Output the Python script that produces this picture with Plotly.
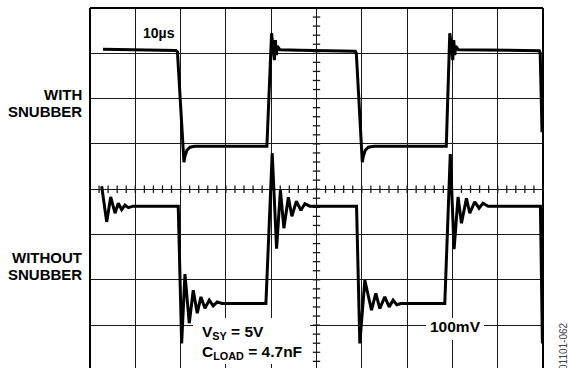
import plotly.graph_objects as go

# ---- data (scope divisions: x 0..10, y -4..4, centre line at 0) ----
snub_x = [0.287, 1.103, 1.897, 1.93, 2.074, 2.096, 2.14, 2.206, 2.316, 3.905,
          4.008, 4.037, 4.07, 4.092, 4.114, 4.136, 4.191, 4.633, 5.857, 5.879,
          6.011, 6.033, 6.077, 6.144, 6.265, 7.865, 7.942, 7.975, 8.008, 8.03,
          8.052, 8.074, 8.129, 9.916, 9.938, 9.978]
snub_y = [3.09, 3.08, 3.06, 3.035, 0.596, 0.728, 0.861, 0.927, 0.949, 0.949,
          3.444, 3.179, 2.848, 3.29, 2.958, 3.157, 3.079, 3.068, 3.046, 3.002,
          0.596, 0.728, 0.861, 0.927, 0.949, 0.949, 3.444, 3.179, 2.848, 3.29,
          2.958, 3.157, 3.079, 3.057, 3.013, 1.258]

nosnub_x = [0.258, 0.368, 0.457, 0.552, 0.624, 0.699, 0.772, 0.849, 0.949, 1.948,
            2.023, 2.096, 2.191, 2.279, 2.367, 2.449, 2.537, 2.632, 2.72, 2.808,
            2.912, 3.883, 4.022, 4.119, 4.203, 4.28, 4.379, 4.456, 4.556, 4.655,
            4.743, 4.853, 5.884, 5.956, 6.067, 6.214, 6.309, 6.398, 6.508, 6.603,
            6.691, 6.773, 6.861, 7.832, 7.953, 8.037, 8.125, 8.2, 8.31, 8.383,
            8.493, 8.588, 8.676, 8.787, 9.943, 9.987]
nosnub_y = [0.066, -0.722, -0.17, -0.53, -0.309, -0.453, -0.353, -0.408, -0.375, -0.375,
            -3.406, -1.876, -2.958, -2.23, -2.737, -2.377, -2.627, -2.45, -2.576, -2.488,
            -2.523, -2.523, 0.795, -1.313, -0.022, -0.861, -0.177, -0.596, -0.265, -0.464,
            -0.32, -0.375, -0.375, -3.406, -2.009, -2.671, -2.302, -2.634, -2.377, -2.598,
            -2.45, -2.55, -2.523, -2.523, 0.773, -1.325, -0.17, -0.751, -0.199, -0.53,
            -0.28, -0.419, -0.309, -0.375, -0.375, -3.406]

center_ticks_x = [i * 0.2 for i in range(1, 50)]
center_ticks_y = [i * 0.2 for i in range(-19, 20)]

# ---- figure ----
W, H = 568, 368
L, R, T, B = 90, 25, 8, 0
PW, PH = W - L - R, H - T - B


def PX(x):
    return (x - L) / PW


def PY(y):
    return (H - B - y) / PH


fig = go.Figure()
line_style = dict(color="black", width=3)
fig.add_trace(go.Scatter(x=snub_x, y=snub_y, mode="lines", line=line_style,
                         hoverinfo="skip", showlegend=False))
fig.add_trace(go.Scatter(x=nosnub_x, y=nosnub_y, mode="lines", line=line_style,
                         hoverinfo="skip", showlegend=False))

shapes = []
tk = 0.082
for tx in center_ticks_x:
    shapes.append(dict(type="line", xref="x", yref="y", x0=tx, x1=tx, y0=-tk, y1=tk,
                       line=dict(color="#1a1a1a", width=1.3), layer="between"))
for ty in center_ticks_y:
    shapes.append(dict(type="line", xref="x", yref="y", x0=5 - tk, x1=5 + tk, y0=ty, y1=ty,
                       line=dict(color="#1a1a1a", width=1.3), layer="between"))
# frame (top, left, right)
for x0, y0, x1, y1 in [(0, 1, 1, 1), (0, 0, 0, 1), (1, 0, 1, 1)]:
    shapes.append(dict(type="line", xref="paper", yref="paper", x0=x0, x1=x1, y0=y0, y1=y1,
                       line=dict(color="black", width=2), layer="above"))
# white label boxes
shapes.append(dict(type="rect", xref="paper", yref="paper", x0=PX(193), x1=PX(310),
                   y0=PY(364), y1=PY(318), fillcolor="white", line=dict(width=0), layer="above"))
shapes.append(dict(type="rect", xref="paper", yref="paper", x0=PX(426), x1=PX(484),
                   y0=PY(340), y1=PY(318), fillcolor="white", line=dict(width=0), layer="above"))

FAM = "Liberation Sans, Arial, sans-serif"
fnt = dict(family=FAM, size=15.5, color="black", weight="bold")
side = dict(family=FAM, size=15, color="black", weight="bold")
ann = []


def add(text, x, y, xa="center", ya="middle", font=fnt, angle=0):
    ann.append(dict(text=text, x=PX(x), y=PY(y), xref="paper", yref="paper",
                    xanchor=xa, yanchor=ya, showarrow=False, font=font, textangle=angle))


add("10µs", 158.5, 33, font=dict(family=FAM, size=14, color="black", weight="bold"))
add("WITH", 84, 94, xa="right", font=side)
add("SNUBBER", 84, 111, xa="right", font=side)
add("WITHOUT", 84, 257, xa="right", font=side)
add("SNUBBER", 84, 274, xa="right", font=side)
add("V<sub>SY</sub> = 5V", 200, 332, xa="left")
add("C<sub>LOAD</sub> = 4.7nF", 200, 352, xa="left")
add("100mV", 455, 326)
add("01101-062", 563, 346, font=dict(family=FAM, size=10, color="#444444"), angle=-90)

axis_common = dict(showgrid=True, gridcolor="#1a1a1a", gridwidth=1.3, zeroline=False,
                   showticklabels=False, ticks="", showline=False, dtick=1, tick0=0,
                   fixedrange=True)
fig.update_layout(
    width=W, height=H,
    margin=dict(l=L, r=R, t=T, b=B, pad=0),
    paper_bgcolor="white", plot_bgcolor="white",
    xaxis=dict(range=[0, 10], **axis_common),
    yaxis=dict(range=[4 - PH / 45.3, 4], **axis_common),
    shapes=shapes, annotations=ann,
)
fig.write_html("out.html", config={"displayModeBar": False},
               post_script="document.body.style.margin='0';document.body.style.overflow='hidden';")
